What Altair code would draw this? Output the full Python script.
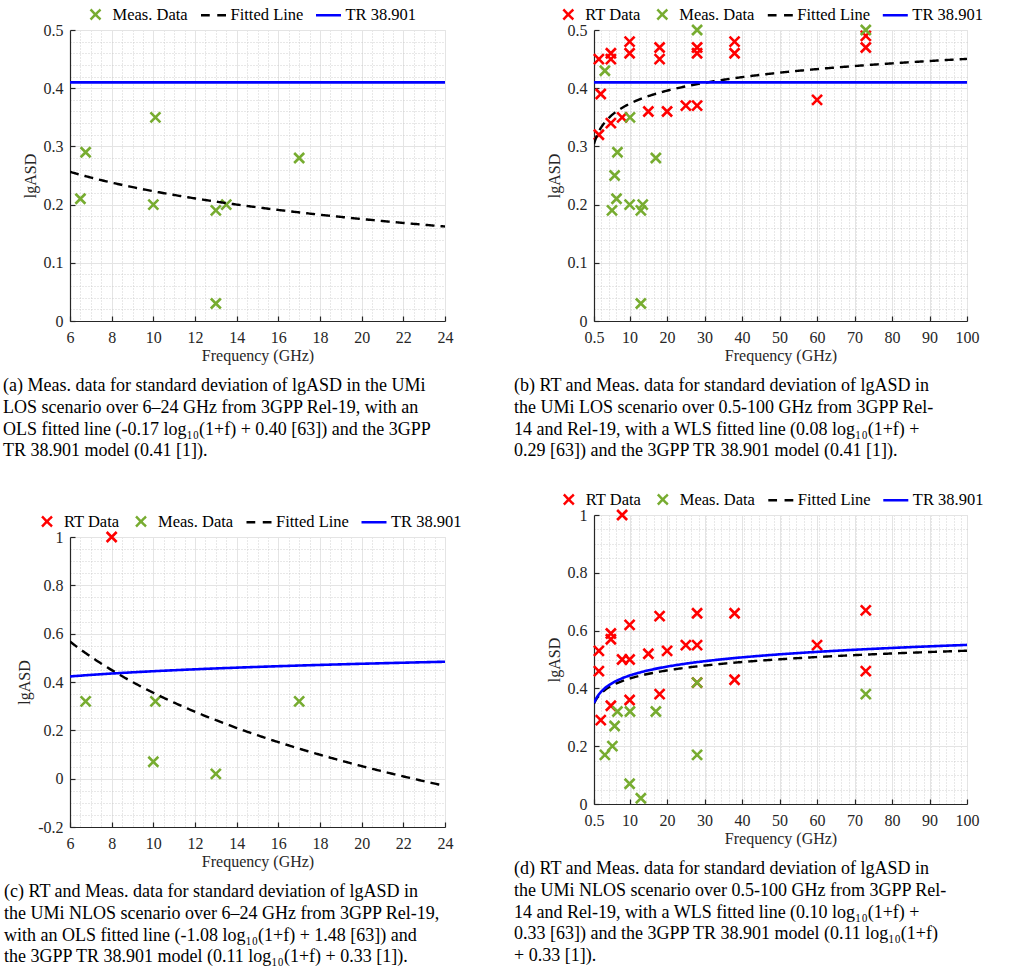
import altair as alt
import numpy as np
import pandas as pd

FONT = "Liberation Serif"
AXIS_GREY = "#262626"

# ---- (a) UMi LOS, 6-24 GHz -------------------------------------------------
a_meas_f = [6.5, 6.75, 10.1, 10, 13, 13, 13.5, 17]
a_meas_v = [0.21, 0.29, 0.35, 0.20, 0.19, 0.03, 0.20, 0.28]
a_fit = [-0.17, 0.40]          # slope, intercept of log10(1+f)
a_tr = [0.0, 0.41]

# ---- (b) UMi LOS, 0.5-100 GHz ----------------------------------------------
b_rt_f = [1.8, 2.3, 1.8, 5, 5, 5, 8, 10, 10, 15, 18, 18, 20, 25, 28, 28, 28, 38, 38, 60, 73, 73]
b_rt_v = [0.45, 0.39, 0.32, 0.46, 0.45, 0.34, 0.35, 0.48, 0.46, 0.36, 0.47, 0.45, 0.36, 0.37,
          0.47, 0.46, 0.37, 0.48, 0.46, 0.38, 0.49, 0.47]
b_meas_f = [3.4, 5.3, 6, 6.5, 6.75, 10, 10.1, 13, 13, 13.5, 17, 28, 73]
b_meas_v = [0.43, 0.19, 0.25, 0.21, 0.29, 0.20, 0.35, 0.19, 0.03, 0.20, 0.28, 0.50, 0.50]
b_fit = [0.08, 0.29]
b_tr = [0.0, 0.41]

# ---- (c) UMi NLOS, 6-24 GHz ------------------------------------------------
c_rt_f = [8]
c_rt_v = [1.0]
c_meas_f = [6.75, 10.1, 10, 13, 17]
c_meas_v = [0.32, 0.32, 0.07, 0.02, 0.32]
c_fit = [-1.08, 1.48]
c_tr = [0.11, 0.33]

# ---- (d) UMi NLOS, 0.5-100 GHz ---------------------------------------------
d_rt_f = [8, 1.8, 1.8, 2.3, 5, 5, 5, 8, 10, 10, 10, 15, 18, 18, 20, 25, 28, 28, 28, 38, 38, 60, 73, 73]
d_rt_v = [1.0, 0.53, 0.46, 0.29, 0.59, 0.57, 0.34, 0.50, 0.50, 0.62, 0.36, 0.52, 0.65, 0.38,
          0.53, 0.55, 0.55, 0.66, 0.42, 0.66, 0.43, 0.55, 0.67, 0.46]
d_meas_f = [3.4, 5.4, 6, 6.75, 10.1, 10, 13, 17, 28, 28, 73]
d_meas_v = [0.17, 0.20, 0.27, 0.32, 0.32, 0.07, 0.02, 0.32, 0.42, 0.17, 0.38]
d_fit = [0.10, 0.33]
d_tr = [0.11, 0.33]

# ---- axis ticks --------------------------------------------------------------
x_ticks_narrow = [6, 8, 10, 12, 14, 16, 18, 20, 22, 24]
x_ticks_wide = [0.5, 10, 20, 30, 40, 50, 60, 70, 80, 90, 100]
y_ticks_los = [0, 0.1, 0.2, 0.3, 0.4, 0.5]
y_ticks_c = [-0.2, 0, 0.2, 0.4, 0.6, 0.8, 1]
y_ticks_d = [0, 0.2, 0.4, 0.6, 0.8, 1]

captions = {
    "a": ["(a) Meas. data for standard deviation of lgASD in the UMi",
          "LOS scenario over 6\u201324 GHz from 3GPP Rel-19, with an",
          "OLS fitted line (-0.17 log\u2081\u2080(1+f) + 0.40 [63]) and the 3GPP",
          "TR 38.901 model (0.41 [1])."],
    "b": ["(b) RT and Meas. data for standard deviation of lgASD in",
          "the UMi LOS scenario over 0.5-100 GHz from 3GPP Rel-",
          "14 and Rel-19, with a WLS fitted line (0.08 log\u2081\u2080(1+f) +",
          "0.29 [63]) and the 3GPP TR 38.901 model (0.41 [1])."],
    "c": ["(c) RT and Meas. data for standard deviation of lgASD in",
          "the UMi NLOS scenario over 6\u201324 GHz from 3GPP Rel-19,",
          "with an OLS fitted line (-1.08 log\u2081\u2080(1+f) + 1.48 [63]) and",
          "the 3GPP TR 38.901 model (0.11 log\u2081\u2080(1+f) + 0.33 [1])."],
    "d": ["(d) RT and Meas. data for standard deviation of lgASD in",
          "the UMi NLOS scenario over 0.5-100 GHz from 3GPP Rel-",
          "14 and Rel-19, with a WLS fitted line (0.10 log\u2081\u2080(1+f) +",
          "0.33 [63]) and the 3GPP TR 38.901 model (0.11 log\u2081\u2080(1+f)",
          "+ 0.33 [1])."],
}

COLORS = {"RT Data": "#ff0000", "Meas. Data": "#77ac30",
          "Fitted Line": "#000000", "TR 38.901": "#0000ff"}
CROSS = "M-0.4,-0.4L0.4,0.4M-0.4,0.4L0.4,-0.4"
SHAPES = {"RT Data": CROSS, "Meas. Data": CROSS,
          "Fitted Line": "M-1,0L-0.3,0M0.3,0L1,0",
          "TR 38.901": "M-1,0L1,0"}


def minor_values(ticks, step):
    lo, hi = min(ticks), max(ticks)
    n = int(round((hi - lo) / step))
    vals = [round(lo + i * step, 4) for i in range(n + 1)]
    return [v for v in vals if v not in ticks]


def panel(key, band, ydom, xt, xminor_step, yt, yminor_step, meas, fit, tr, rt,
          W, H, legend_x, caption_dx):
    series = (["RT Data"] if rt else []) + ["Meas. Data", "Fitted Line", "TR 38.901"]
    cscale = alt.Scale(domain=series, range=[COLORS[s] for s in series])
    sscale = alt.Scale(domain=series, range=[SHAPES[s] for s in series])
    xs = alt.Scale(domain=band, nice=False, zero=False)
    ys = alt.Scale(domain=ydom, nice=False, zero=False)

    legend = alt.Legend(
        title=None, orient="none", legendX=legend_x, legendY=-29.5,
        direction="horizontal", columns=len(series), columnPadding=7,
        labelOffset=3, labelFont=FONT, labelFontSize=16.5, labelColor="#000000",
        symbolSize=625, symbolStrokeWidth=2.5, symbolDash=[1, 0], padding=0,
        labelLimit=200)

    lab_expr = "'' + datum.value"
    major_x = alt.Axis(orient="bottom", values=xt, grid=True, gridColor="#e4e4e4",
                       gridWidth=1, ticks=False, domain=True, domainColor=AXIS_GREY,
                       domainWidth=1.2, labelExpr=lab_expr, labelFont=FONT,
                       labelFontSize=16, labelColor=AXIS_GREY, labelPadding=8,
                       labelFlush=False,
                       title="Frequency (GHz)", titleFont=FONT, titleFontSize=16,
                       titleFontWeight="normal", titleColor=AXIS_GREY, titlePadding=2)
    major_y = alt.Axis(orient="left", values=yt, grid=True, gridColor="#e4e4e4",
                       gridWidth=1, ticks=False, domain=True, domainColor=AXIS_GREY,
                       domainWidth=1.2, labelExpr=lab_expr, labelFont=FONT,
                       labelFontSize=16, labelColor=AXIS_GREY, labelPadding=7,
                       title="lgASD", titleFont=FONT, titleFontSize=16,
                       titleFontWeight="normal", titleColor=AXIS_GREY, titlePadding=5)
    minor_x = alt.Axis(orient="bottom", values=minor_values(xt, xminor_step), grid=True,
                       gridColor="#c4c4c4", gridDash=[1, 2], gridWidth=0.8,
                       ticks=False, labels=False, domain=False, title=None)
    minor_y = alt.Axis(orient="left", values=minor_values(yt, yminor_step), grid=True,
                       gridColor="#c4c4c4", gridDash=[1, 2], gridWidth=0.8,
                       ticks=False, labels=False, domain=False, title=None)
    tick_x = alt.Axis(orient="bottom", values=xt, grid=False, ticks=True, tickSize=5,
                      tickColor=AXIS_GREY, tickWidth=1.2, labels=False, domain=False,
                      title=None, offset=-5)
    tick_y = alt.Axis(orient="left", values=yt, grid=False, ticks=True, tickSize=5,
                      tickColor=AXIS_GREY, tickWidth=1.2, labels=False, domain=False,
                      title=None, offset=-5)

    def enc_color():
        return alt.Color("series:N", scale=cscale, legend=legend)

    layers = []
    if rt:
        rt_df = pd.DataFrame({"f": rt[0], "v": rt[1], "series": "RT Data"})
        layers.append(alt.Chart(rt_df).mark_point(filled=False, size=625, strokeWidth=2.6,
                                                  opacity=1).encode(
            x=alt.X("f:Q", scale=xs, axis=None),
            y=alt.Y("v:Q", scale=ys, axis=None),
            color=enc_color(),
            shape=alt.Shape("series:N", scale=sscale, legend=legend)))
    meas_df = pd.DataFrame({"f": meas[0], "v": meas[1], "series": "Meas. Data"})
    layers.append(alt.Chart(meas_df).mark_point(filled=False, size=625, strokeWidth=2.6,
                                                opacity=1).encode(
        x=alt.X("f:Q", scale=xs, axis=tick_x),
        y=alt.Y("v:Q", scale=ys, axis=tick_y),
        color=enc_color(),
        shape=alt.Shape("series:N", scale=sscale, legend=legend)))

    # model curves evaluated from the stated coefficients
    fgrid = np.linspace(band[0], band[1], 300)
    fit_df = pd.DataFrame({"f": fgrid, "v": fit[0] * np.log10(1 + fgrid) + fit[1],
                           "series": "Fitted Line"})
    tr_df = pd.DataFrame({"f": fgrid, "v": tr[0] * np.log10(1 + fgrid) + tr[1],
                          "series": "TR 38.901"})
    layers.append(alt.Chart(fit_df).mark_line(strokeWidth=2.4, strokeDash=[9, 6],
                                              clip=True).encode(
        x=alt.X("f:Q", scale=xs, axis=minor_x),
        y=alt.Y("v:Q", scale=ys, axis=minor_y),
        color=enc_color()))
    layers.append(alt.Chart(tr_df).mark_line(strokeWidth=2.6, clip=True).encode(
        x=alt.X("f:Q", scale=xs, axis=major_x),
        y=alt.Y("v:Q", scale=ys, axis=major_y),
        color=enc_color()))

    title = alt.TitleParams(text=captions[key], orient="bottom", anchor="start",
                            frame="group", dx=caption_dx, offset=14, font=FONT,
                            fontSize=18, fontWeight="normal", color="#000000",
                            lineHeight=21.8, baseline="top")
    return alt.layer(*layers).resolve_axis(x="independent", y="independent").properties(
        width=W, height=H, title=title)


pa = panel("a", [6, 24], [0, 0.5], x_ticks_narrow, 0.5, y_ticks_los, 0.02,
           (a_meas_f, a_meas_v), a_fit, a_tr, None, 375, 291, 11.5, -67)
pb = panel("b", [0.5, 100], [0, 0.5], x_ticks_wide, 2, y_ticks_los, 0.02,
           (b_meas_f, b_meas_v), b_fit, b_tr, (b_rt_f, b_rt_v), 373, 291, -39.7, -80)
pc = panel("c", [6, 24], [-0.2, 1], x_ticks_narrow, 0.5, y_ticks_c, 0.05,
           (c_meas_f, c_meas_v), c_fit, c_tr, (c_rt_f, c_rt_v), 375, 290, -37, -66)
pd_ = panel("d", [0.5, 100], [0, 1], x_ticks_wide, 2, y_ticks_d, 0.05,
            (d_meas_f, d_meas_v), d_fit, d_tr, (d_rt_f, d_rt_v), 373, 289, -39.2, -80)

indep = dict(x="independent", y="independent", color="independent", shape="independent")

left = alt.vconcat(pa, pc, spacing=216, bounds="flush").resolve_scale(**indep)
right = alt.vconcat(pb, pd_, spacing=194, bounds="flush").resolve_scale(**indep)

chart = alt.hconcat(left, right, spacing=50).resolve_scale(**indep).properties(
    padding={"left": 2, "top": 0, "right": 0, "bottom": 0}
).configure_view(stroke=None).configure(background="white")

chart.save("out.html", embed_options={"renderer": "svg", "actions": False})
